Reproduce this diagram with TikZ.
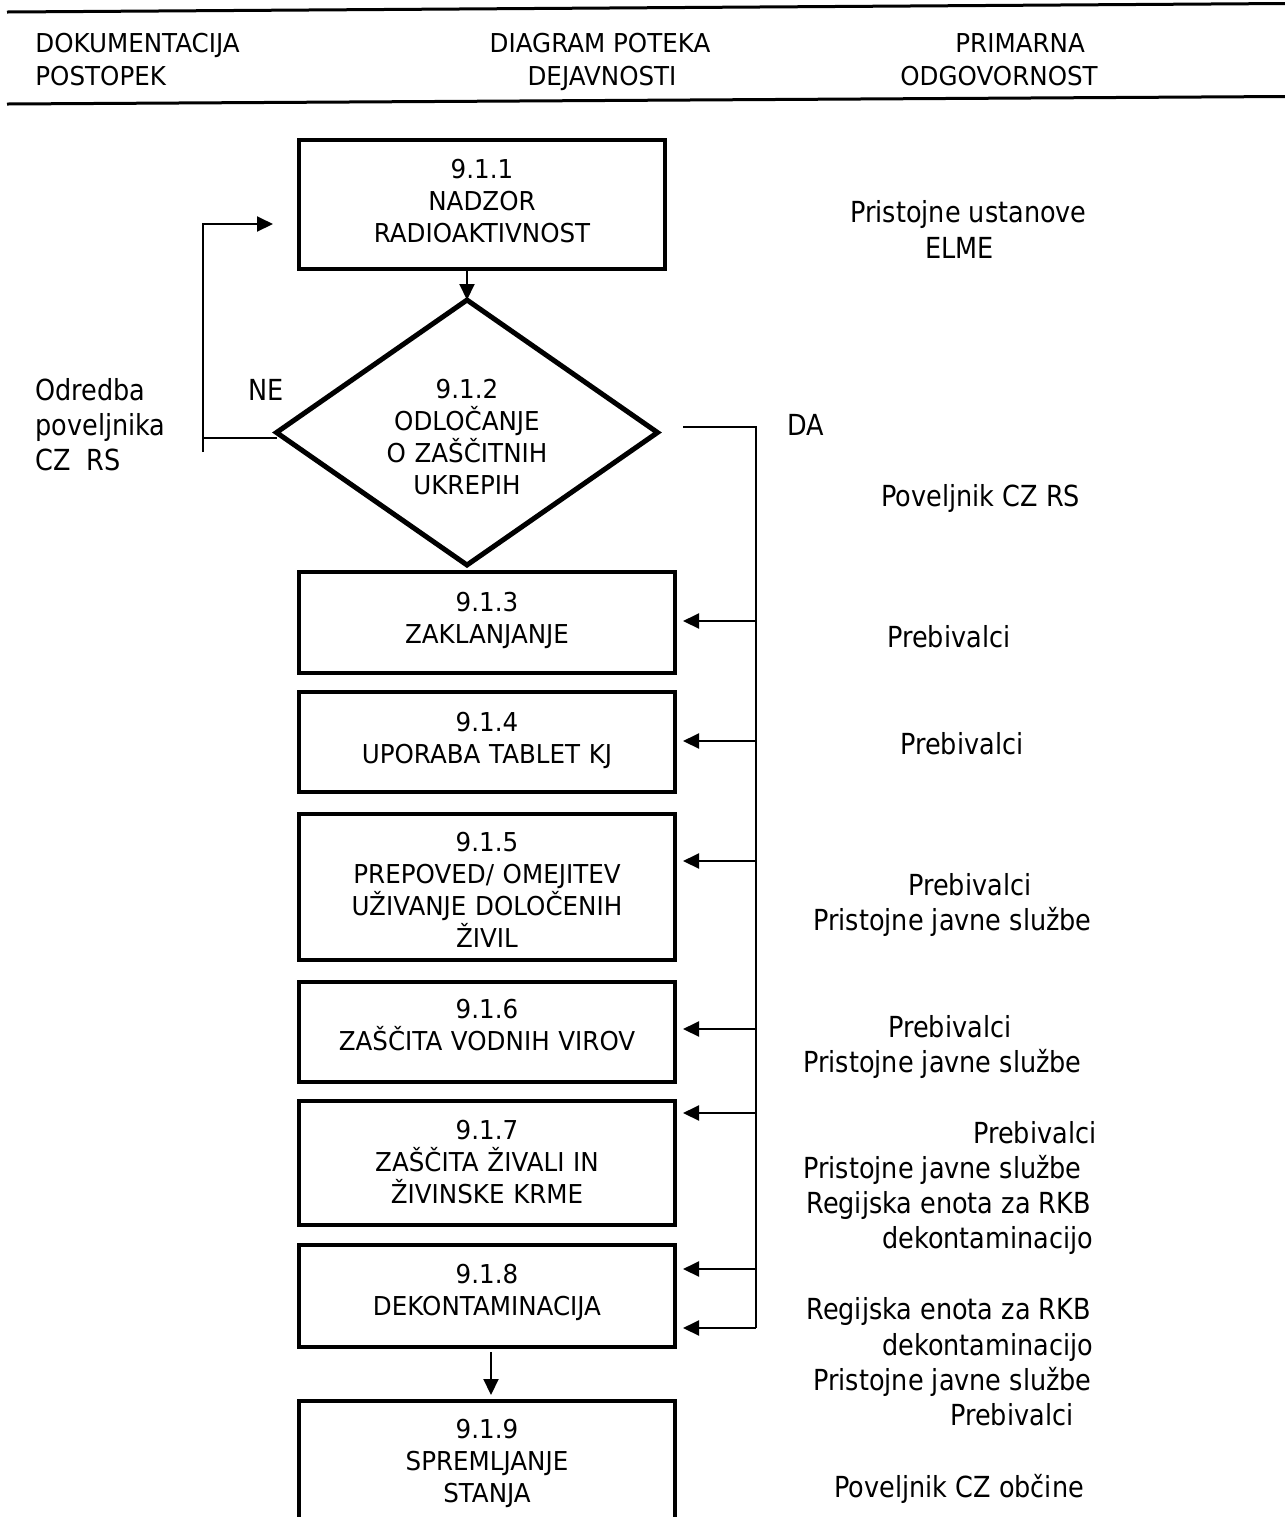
\documentclass[tikz,border=0pt]{standalone}
\usepackage{fontspec}
\setmainfont{DejaVu Sans}
\newfontfamily\bxf{DejaVu Sans}[FakeStretch=0.945]
\newfontfamily\lbf{DejaVu Sans}[FakeStretch=0.88]
\usetikzlibrary{arrows.meta,shapes.geometric}
\begin{document}
\begin{tikzpicture}[x=0.5pt,y=-0.5pt,
  boxst/.style={draw, line width=2pt, inner sep=0pt, outer sep=0pt},
  decst/.style={draw, diamond, line width=2.5pt, inner sep=0pt, outer sep=0pt,
                minimum width=190.5pt, minimum height=132.5pt},
  btxt/.style={inner sep=0pt, anchor=base, text width=200pt, align=center,
               font=\bxf\fontsize{13pt}{16.15pt}\selectfont},
  htxt/.style={inner sep=0pt, font=\bxf\fontsize{13pt}{16.15pt}\selectfont},
  ltxt/.style={inner sep=0pt, anchor=base west, font=\lbf\fontsize{14.5pt}{17.5pt}\selectfont},
  conn/.style={line width=1pt},
  arr/.style={line width=1pt, -{Triangle[length=8pt,width=7.5pt]}},
  hline/.style={line width=1.5pt}
]
\useasboundingbox (0,0) rectangle (1285,1517);
\clip (0,0) rectangle (1285,1517);

% header
\draw[hline] (7,12) -- (1285,3.5);
\draw[hline] (7,104) -- (1285,96.5);
\node[htxt, anchor=base west] (hd1) at (35,52) {DOKUMENTACIJA};
\node[htxt, anchor=base west] (hd2) at (35,85) {POSTOPEK};
\node[htxt, anchor=base] (hd3) at (600,52) {DIAGRAM POTEKA};
\node[htxt, anchor=base] (hd4) at (602,85) {DEJAVNOSTI};
\node[htxt, anchor=base west] (hd5) at (955,52) {PRIMARNA};
\node[htxt, anchor=base west] (hd6) at (900,85) {ODGOVORNOST};

% boxes
\node[boxst, minimum width=183pt, minimum height=64.5pt] (b1) at (482,204.5) {};
\node[decst] (dia) at (467,432.5) {};
\node[boxst, minimum width=188pt, minimum height=50.5pt] (b3) at (487,622.5) {};
\node[boxst, minimum width=188pt, minimum height=50pt] (b4) at (487,742) {};
\node[boxst, minimum width=188pt, minimum height=73pt] (b5) at (487,887) {};
\node[boxst, minimum width=188pt, minimum height=50pt] (b6) at (487,1032) {};
\node[boxst, minimum width=188pt, minimum height=62pt] (b7) at (487,1163) {};
\node[boxst, minimum width=188pt, minimum height=51pt] (b8) at (487,1296) {};
\node[boxst, minimum width=188pt, minimum height=79.5pt] (b9) at (487,1480.5) {};

% box texts
\node[btxt] (t1) at (482,178) {9.1.1\\NADZOR\\RADIOAKTIVNOST};
\node[btxt] (t2) at (467,398) {9.1.2\\ODLOČANJE\\O ZAŠČITNIH\\UKREPIH};
\node[btxt] (t3) at (487,611) {9.1.3\\ZAKLANJANJE};
\node[btxt] (t4) at (487,731) {9.1.4\\UPORABA TABLET KJ};
\node[btxt] (t5) at (487,851) {9.1.5\\PREPOVED/ OMEJITEV\\UŽIVANJE DOLOČENIH\\ŽIVIL};
\node[btxt] (t6) at (487,1018) {9.1.6\\ZAŠČITA VODNIH VIROV};
\node[btxt] (t7) at (487,1139) {9.1.7\\ZAŠČITA ŽIVALI IN\\ŽIVINSKE KRME};
\node[btxt] (t8) at (487,1283) {9.1.8\\DEKONTAMINACIJA};
\node[btxt] (t9) at (487,1438) {9.1.9\\SPREMLJANJE\\STANJA};

% connectors
\draw[arr] (b1.south -| dia.north) -- (dia.north);

\coordinate (neL) at (203,438);
\coordinate (loopB) at (203,452);
\coordinate (loopT) at (203,224);
\coordinate (loopTip) at (273,224);
\draw[conn] (dia.west |- neL) -- (neL);
\draw[arr] (loopB) -- (loopT) -- (loopTip);

\coordinate (daS) at (683,427);
\coordinate (busT) at (756,427);
\coordinate (busB) at (756,1328);
\draw[conn] (daS) -- (busT) -- (busB);

\foreach \b/\y in {b3/621, b4/741, b5/861, b6/1029, b7/1113, b8/1269, b8/1328}
  \draw[arr, shorten >=4pt] (busT |- 0,\y) -- (\b.east |- 0,\y);

\draw[arr] ([xshift=2pt,yshift=-2.5pt]b8.south) -- ([xshift=2pt,yshift=3pt]b9.north);

% left labels
\node[ltxt] (o1) at (35,400) {Odredba};
\node[ltxt] (o2) at (35,435) {poveljnika};
\node[ltxt] (o3) at (35,470) {CZ\ \ RS};
\node[ltxt] (ne) at (248,400) {NE};
\node[ltxt] (da) at (787,435) {DA};

% responsibility column
\node[ltxt] (r1a) at (850,222) {Pristojne ustanove};
\node[ltxt] (r1b) at (925,258) {ELME};
\node[ltxt] (r2) at (881,506) {Poveljnik CZ RS};
\node[ltxt] (r3) at (887,647) {Prebivalci};
\node[ltxt] (r4) at (900,754) {Prebivalci};
\node[ltxt] (r5a) at (908,895) {Prebivalci};
\node[ltxt] (r5b) at (813,930) {Pristojne javne službe};
\node[ltxt] (r6a) at (888,1037) {Prebivalci};
\node[ltxt] (r6b) at (803,1072) {Pristojne javne službe};
\node[ltxt] (r7a) at (973,1143) {Prebivalci};
\node[ltxt] (r7b) at (803,1178) {Pristojne javne službe};
\node[ltxt] (r7c) at (806,1213) {Regijska enota za RKB};
\node[ltxt] (r7d) at (882,1248) {dekontaminacijo};
\node[ltxt] (r8a) at (806,1319) {Regijska enota za RKB};
\node[ltxt] (r8b) at (882,1355) {dekontaminacijo};
\node[ltxt] (r8c) at (813,1390) {Pristojne javne službe};
\node[ltxt] (r8d) at (950,1425) {Prebivalci};
\node[ltxt] (r9) at (834,1497) {Poveljnik CZ občine};
\end{tikzpicture}
\end{document}
